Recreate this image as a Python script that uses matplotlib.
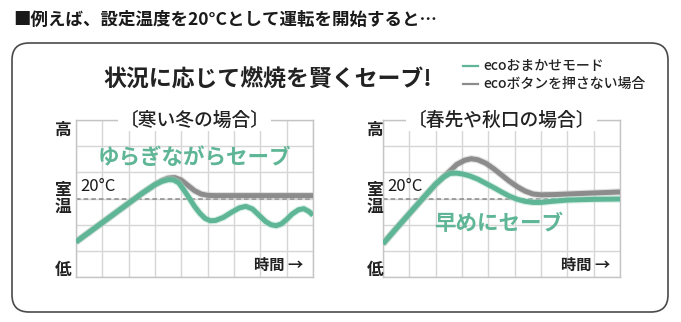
import matplotlib
matplotlib.use("Agg")
import matplotlib.pyplot as plt
import matplotlib.patheffects as pe
from matplotlib.patches import FancyBboxPatch

plt.rcParams['font.family'] = ['Noto Sans CJK JP', 'DejaVu Sans']

# curve data on a 9 x 6 grid (x: time, y: room temperature level)
winter_eco_x = [0, 0.5, 1.0, 1.5, 2.0, 2.5, 3.0, 3.25, 3.5, 3.7, 3.9, 4.1, 4.3, 4.5, 4.7,
                4.9, 5.1, 5.3, 5.6, 5.9, 6.2, 6.45, 6.7, 6.95, 7.2, 7.4, 7.6, 7.8, 8.0,
                8.2, 8.45, 8.65, 8.85, 9.0]
winter_eco_y = [1.34, 1.71, 2.08, 2.45, 2.82, 3.19, 3.53, 3.65, 3.72, 3.71, 3.6, 3.32, 3.02,
                2.7, 2.44, 2.24, 2.15, 2.16, 2.28, 2.47, 2.64, 2.7, 2.6, 2.36, 2.12, 2.0,
                1.96, 2.03, 2.2, 2.4, 2.57, 2.61, 2.5, 2.36]
winter_off_x = [0, 0.5, 1.0, 1.5, 2.0, 2.5, 3.0, 3.25, 3.5, 3.75, 4.0, 4.25, 4.5, 4.75,
                5.0, 5.25, 9.0]
winter_off_y = [1.34, 1.71, 2.08, 2.45, 2.82, 3.19, 3.53, 3.68, 3.78, 3.8, 3.7, 3.5, 3.3,
                3.17, 3.12, 3.11, 3.11]

spring_eco_x = [0, 0.5, 1.0, 1.5, 2.0, 2.3, 2.55, 2.8, 3.05, 3.3, 3.6, 3.9, 4.2, 4.5, 4.8,
                5.1, 5.4, 5.7, 6.0, 6.5, 7.0, 8.0, 9.0]
spring_eco_y = [1.27, 1.85, 2.42, 2.99, 3.55, 3.82, 3.96, 3.97, 3.93, 3.86, 3.74, 3.58,
                3.42, 3.25, 3.09, 2.97, 2.89, 2.85, 2.85, 2.9, 2.94, 2.97, 2.98]
spring_off_x = [0, 0.5, 1.0, 1.5, 2.0, 2.3, 2.55, 2.8, 3.1, 3.35, 3.6, 3.9, 4.2, 4.5, 4.8,
                5.1, 5.4, 5.7, 6.0, 6.5, 7.5, 9.0]
spring_off_y = [1.27, 1.85, 2.42, 2.99, 3.55, 3.82, 4.06, 4.3, 4.46, 4.52, 4.48, 4.35,
                4.14, 3.9, 3.66, 3.45, 3.28, 3.17, 3.14, 3.15, 3.19, 3.25]

panel_titles = ['〔寒い冬の場合〕', '〔春先や秋口の場合〕']
panel_notes = ['ゆらぎながらセーブ', '早めにセーブ']
legend_labels = ['ecoおまかせモード', 'ecoボタンを押さない場合']
setpoint_label = '20°C'

GREEN = '#5fb697'
GRAY = '#8c8c8c'
W, H = 681, 322

fig = plt.figure(figsize=(W / 100, H / 100), dpi=100)
fig.patch.set_facecolor('white')


def fx(px):
    return px / W


def fy(py):
    return 1 - py / H


# background layer in pixel units: frame, heading, legend
bg = fig.add_axes([0, 0, 1, 1], zorder=-1)
bg.set_xlim(0, W)
bg.set_ylim(H, 0)
bg.axis('off')
bg.add_patch(FancyBboxPatch((12, 43), 656, 269, boxstyle='round,pad=0,rounding_size=17',
                            facecolor='white', edgecolor='#4a4a4a', linewidth=1.2))
bg.text(13, 20, '■例えば、設定温度を20°Cとして運転を開始すると…', fontsize=12.6,
        fontweight='bold', color='#1a1a1a', va='center', ha='left')
bg.text(268, 80, '状況に応じて燃焼を賢くセーブ!', fontsize=16.5, fontweight='bold',
        color='#222222', va='center', ha='center')
for yy, col, lab in zip([66, 84], [GREEN, GRAY], legend_labels):
    bg.plot([463, 478], [yy, yy], color=col, lw=1.6)
    bg.text(483, yy, lab, fontsize=10, fontweight='medium', color='#222222',
            va='center', ha='left')

panels = [
    (76, winter_eco_x, winter_eco_y, winter_off_x, winter_off_y, (4.5, 4.55), 63),
    (383, spring_eco_x, spring_eco_y, spring_off_x, spring_off_y, (4.4, 2.06), 375),
]
top, bottom, width = 120, 277, 237

for i, (left, ex, ey, gx, gy, note_pos, lab_x) in enumerate(panels):
    ax = fig.add_axes([fx(left), fy(bottom), width / W, (bottom - top) / H])
    ax.set_xlim(0, 9)
    ax.set_ylim(0, 6)
    ax.set_xticks(range(10))
    ax.set_yticks(range(7))
    ax.tick_params(length=0, labelbottom=False, labelleft=False)
    ax.grid(True, color='#d6d6d6', lw=1.0)
    for sp in ax.spines.values():
        sp.set_color('#c4c4c4')
        sp.set_linewidth(1.0)
    ax.axhline(3, color='#8a8a8a', lw=1.1, ls=(0, (3, 2)), zorder=2)

    glow = lambda c: [pe.Stroke(linewidth=5.2, foreground=c, alpha=0.45), pe.Normal()]
    ax.plot(gx, gy, color=GRAY, lw=3.6, solid_capstyle='butt', zorder=3,
            path_effects=glow('#bdbdbd'))
    ax.plot(ex, ey, color=GREEN, lw=3.6, solid_capstyle='butt', zorder=4,
            path_effects=glow('#a9dcc8'))

    ax.text(0.15, 3.44, setpoint_label, fontsize=12, color='#1a1a1a', va='center', ha='left')
    ax.text(note_pos[0], note_pos[1], panel_notes[i], fontsize=15.5, fontweight='bold',
            color=GREEN, va='center', ha='center', zorder=5)
    ax.text(8.62, 0.46, '時間 →', fontsize=11, fontweight='bold', color='#222222',
            va='center', ha='right')
    ax.text(4.5, 6.0, panel_titles[i], fontsize=13.5, fontweight='medium', color='#222222',
            va='center', ha='center', clip_on=False, zorder=6,
            bbox=dict(facecolor='white', edgecolor='none', pad=1.0))

    for txt, py in [('高', 130), ('室', 190), ('温', 207), ('低', 270)]:
        fig.text(fx(lab_x), fy(py), txt, fontsize=12, fontweight='bold',
                 color='#222222', va='center', ha='center')

fig.savefig('out.png', dpi=100, facecolor='white')
